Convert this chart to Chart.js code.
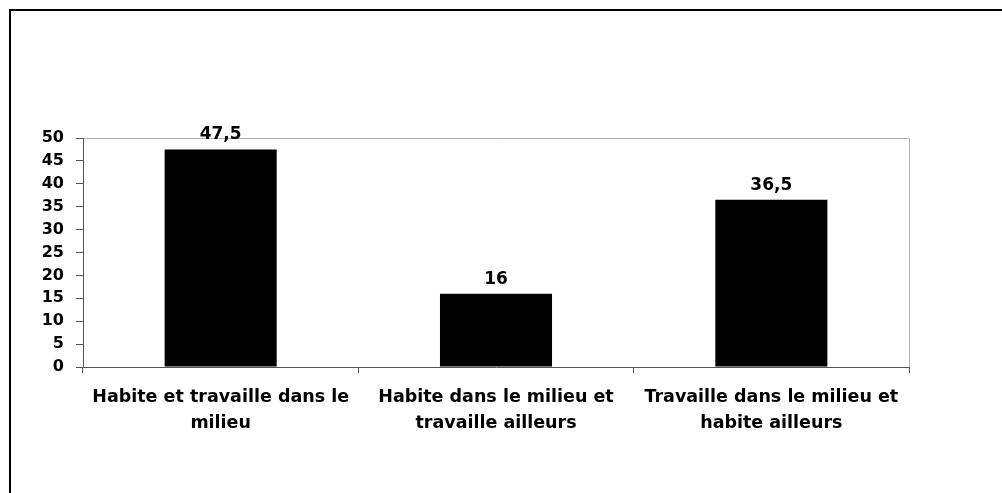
<!DOCTYPE html>
<html>
<head>
<meta charset="utf-8">
<script src="https://cdn.jsdelivr.net/npm/chart.js@4/dist/chart.umd.min.js"></script>
<style>
    html, body { margin: 0; padding: 0; background: #fff; }
    #wrap { width: 1002px; height: 493px; }
</style>
</head>
<body>
<div id="wrap"><canvas id="milieuChart" width="1002" height="493"></canvas></div>
<script>
const categories = [
    ["Habite et travaille dans le", "milieu"],
    ["Habite dans le milieu et", "travaille ailleurs"],
    ["Travaille dans le milieu et", "habite ailleurs"]
];
const values = [47.5, 16, 36.5];
const valueLabels = ["47,5", "16", "36,5"];
const yTicks = [0, 5, 10, 15, 20, 25, 30, 35, 40, 45, 50];

const FONT = "'DejaVu Sans', sans-serif";
const AXIS_GREY = "#555555";

// outer frame + plot border + value labels above the bars
const framePlugin = {
    id: "frame",
    beforeDraw(chart) {
        const ctx = chart.ctx;
        const a = chart.chartArea;
        ctx.save();
        ctx.fillStyle = "#fff";
        ctx.fillRect(0, 0, chart.width, chart.height);
        ctx.strokeStyle = "#000";
        ctx.lineWidth = 2;
        ctx.strokeRect(10, 10, chart.width + 20, chart.height + 20);
        ctx.strokeStyle = "#b0b0b0";
        ctx.lineWidth = 1;
        ctx.beginPath();
        ctx.moveTo(a.left, a.top + 0.5);
        ctx.lineTo(a.right + 0.5, a.top + 0.5);
        ctx.lineTo(a.right + 0.5, a.bottom);
        ctx.stroke();
        ctx.restore();
    },
    afterDatasetsDraw(chart) {
        const ctx = chart.ctx;
        const meta = chart.getDatasetMeta(0);
        ctx.save();
        ctx.font = "bold 17px " + FONT;
        ctx.fillStyle = "#000";
        ctx.textAlign = "center";
        ctx.textBaseline = "alphabetic";
        meta.data.forEach((bar, i) => {
            ctx.fillText(valueLabels[i], bar.x, bar.y - 10);
        });
        ctx.restore();
    }
};

new Chart(document.getElementById("milieuChart"), {
    type: "bar",
    data: {
        labels: categories,
        datasets: [{
            data: values,
            backgroundColor: "#000",
            borderWidth: 0,
            categoryPercentage: 1,
            barPercentage: 0.407
        }]
    },
    options: {
        responsive: false,
        animation: false,
        devicePixelRatio: 1,
        layout: { padding: { top: 138, right: 93, bottom: 0, left: 0 } },
        plugins: {
            legend: { display: false },
            tooltip: { enabled: false }
        },
        scales: {
            x: {
                grid: {
                    offset: true,
                    drawOnChartArea: false,
                    tickLength: 6,
                    color: AXIS_GREY
                },
                border: { color: AXIS_GREY },
                ticks: {
                    color: "#000",
                    padding: 11,
                    maxRotation: 0,
                    autoSkip: false,
                    font: { family: FONT, weight: "bold", size: 17.5, lineHeight: 1.5 }
                },
                afterFit(scale) { scale.height = 126; }
            },
            y: {
                min: 0,
                max: 50,
                afterBuildTicks(scale) {
                    scale.ticks = yTicks.map(v => ({ value: v }));
                },
                grid: {
                    drawOnChartArea: false,
                    tickLength: 7,
                    color: AXIS_GREY
                },
                border: { color: AXIS_GREY },
                ticks: {
                    color: "#000",
                    padding: 12,
                    font: { family: FONT, weight: "bold", size: 16 }
                },
                afterFit(scale) { scale.width = 83; }
            }
        }
    },
    plugins: [framePlugin]
});
</script>
</body>
</html>
